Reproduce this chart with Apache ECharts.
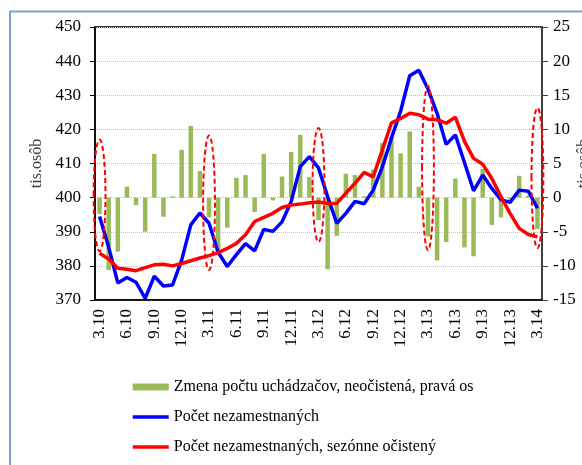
<!DOCTYPE html>
<html>
<head>
<meta charset="utf-8">
<script src="https://cdn.jsdelivr.net/npm/echarts@6/dist/echarts.min.js"></script>
<style>
  html, body { margin: 0; padding: 0; background: #fff; }
  #chart { width: 582px; height: 465px; }
</style>
</head>
<body>
<div id="chart"></div>
<script>
// mesiace 3.10 - 3.14
const months = [
  '3.10', '4.10', '5.10', '6.10', '7.10', '8.10', '9.10', '10.10', '11.10', '12.10',
  '1.11', '2.11', '3.11', '4.11', '5.11', '6.11', '7.11', '8.11', '9.11', '10.11', '11.11', '12.11',
  '1.12', '2.12', '3.12', '4.12', '5.12', '6.12', '7.12', '8.12', '9.12', '10.12', '11.12', '12.12',
  '1.13', '2.13', '3.13', '4.13', '5.13', '6.13', '7.13', '8.13', '9.13', '10.13', '11.13', '12.13',
  '1.14', '2.14', '3.14'
];

// Počet nezamestnaných (tis. osôb, ľavá os)
const unemployed = [
  394.5, 385.5, 375.0, 376.6, 375.2, 370.5, 377.0, 374.1, 374.4, 381.7,
  392.0, 395.5, 392.5, 384.0, 379.8, 383.3, 386.5, 384.4, 390.7, 390.1, 392.9, 398.8,
  409.1, 412.0, 408.7, 400.3, 392.5, 395.4, 398.9, 398.2, 402.2, 409.0, 417.5, 425.3,
  435.7, 437.3, 431.8, 424.7, 415.6, 418.4, 410.3, 402.0, 406.6, 402.7, 399.4, 398.6,
  402.2, 401.9, 396.9
];

// Počet nezamestnaných, sezónne očistený
const unemployedSa = [
  383.7, 382.0, 379.3, 379.0, 378.6, 379.5, 380.3, 380.5, 380.0, 380.7,
  381.5, 382.3, 383.0, 383.9, 385.1, 386.6, 389.1, 393.0, 394.2, 395.4, 397.1, 397.8,
  398.1, 398.5, 398.7, 398.3, 398.3, 401.3, 404.2, 407.4, 406.1, 414.0, 421.9, 423.2,
  424.7, 424.3, 423.0, 422.8, 421.8, 423.6, 416.5, 411.5, 409.8, 405.6, 400.3, 395.4,
  391.0, 389.2, 388.5
];

// Zmena počtu uchádzačov, neočistená (pravá os)
const applicantsChange = [
  -2.4, -10.6, -7.9, 1.6, -1.1, -5.0, 6.4, -2.8, 0.2, 7.0,
  10.5, 3.9, -2.9, -8.2, -4.4, 2.9, 3.3, -2.1, 6.4, -0.4, 3.1, 6.7,
  9.2, 3.0, -3.3, -10.5, -5.6, 3.5, 3.3, 0.2, 4.1, 8.0, 8.9, 6.5,
  9.7, 1.6, -5.7, -9.2, -6.5, 2.8, -7.3, -8.6, 4.2, -4.0, -2.9, -0.3,
  3.2, 0.3, -4.6
];

// zvýraznené marce (ovály), rozsah v tis. osôb
const markMonths = ['3.10', '3.11', '3.12', '3.13', '3.14'];
const markTop = [417.0, 418.2, 420.4, 432.7, 426.3];
const markBottom = [384.3, 378.8, 387.0, 384.6, 385.2];

const leftTicks = { min: 370, max: 450, step: 10 };
const rightTicks = { min: -15, max: 25, step: 5 };

const names = [
  'Zmena počtu uchádzačov, neočistená, pravá os',
  'Počet nezamestnaných',
  'Počet nezamestnaných, sezónne očistený'
];

const serif = 'Liberation Serif';

const markData = markMonths.map(function (m, i) {
  return [months.indexOf(m), markTop[i], markBottom[i]];
});

const chart = echarts.init(document.getElementById('chart'));

chart.setOption({
  animation: false,
  graphic: [
    {
      type: 'rect',
      shape: { x: 10, y: 11.5, width: 640, height: 520 },
      style: { fill: 'none', stroke: '#7f9fd0', lineWidth: 2 },
      silent: true
    }
  ],
  grid: {
    left: 95,
    right: 40,
    top: 27,
    bottom: 165,
    containLabel: false,
    outerBoundsMode: 'none',
    show: true,
    borderColor: '#000',
    borderWidth: 1.5
  },
  legend: {
    orient: 'vertical',
    left: 131,
    top: 379,
    padding: 0,
    itemWidth: 36,
    itemHeight: 7,
    itemGap: 14,
    textStyle: { fontFamily: serif, fontSize: 16, color: '#000' },
    data: [
      { name: names[0], icon: 'rect' },
      { name: names[1], itemStyle: { opacity: 0 }, lineStyle: { width: 3.5 } },
      { name: names[2], itemStyle: { opacity: 0 }, lineStyle: { width: 3.5 } }
    ]
  },
  xAxis: {
    type: 'category',
    data: months,
    boundaryGap: true,
    axisLine: { onZero: false, lineStyle: { color: '#000', width: 1.5 } },
    axisTick: { interval: 2, length: 5, lineStyle: { color: '#000' } },
    axisLabel: {
      interval: 2,
      rotate: 90,
      margin: 9,
      fontFamily: serif,
      fontSize: 17,
      color: '#000'
    }
  },
  yAxis: [
    {
      type: 'value',
      min: leftTicks.min,
      max: leftTicks.max,
      interval: leftTicks.step,
      name: 'tis.osôb',
      nameLocation: 'middle',
      nameGap: 50,
      nameTextStyle: { fontFamily: serif, fontSize: 16, color: '#404040' },
      axisLine: { show: true, lineStyle: { color: '#000', width: 1.5 } },
      axisTick: { show: true, length: 5, lineStyle: { color: '#000' } },
      axisLabel: { margin: 14, fontFamily: serif, fontSize: 17, color: '#000' },
      splitLine: { lineStyle: { color: '#bfbfbf', type: 'dotted', width: 1 } }
    },
    {
      type: 'value',
      min: rightTicks.min,
      max: rightTicks.max,
      interval: rightTicks.step,
      name: 'tis.osôb',
      nameLocation: 'middle',
      nameGap: 34,
      nameRotate: 90,
      nameMoveOverlap: false,
      nameTextStyle: { fontFamily: serif, fontSize: 16, color: '#404040' },
      axisLine: { show: true, lineStyle: { color: '#404040', width: 2 } },
      axisTick: { show: true, length: 6, lineStyle: { color: '#404040' } },
      axisLabel: { margin: 11, fontFamily: serif, fontSize: 17, color: '#000' },
      splitLine: { show: false }
    }
  ],
  series: [
    {
      name: names[0],
      type: 'bar',
      yAxisIndex: 1,
      barWidth: 4.5,
      itemStyle: { color: '#9bbb59' },
      data: applicantsChange
    },
    {
      name: names[1],
      type: 'line',
      symbol: 'none',
      lineStyle: { color: '#0000ff', width: 3.5 },
      itemStyle: { color: '#0000ff' },
      z: 3,
      data: unemployed
    },
    {
      name: names[2],
      type: 'line',
      symbol: 'none',
      lineStyle: { color: '#ff0000', width: 3.5 },
      itemStyle: { color: '#ff0000' },
      z: 4,
      data: unemployedSa
    },
    {
      name: 'marec',
      type: 'custom',
      z: 5,
      silent: true,
      renderItem: function (params, api) {
        const top = api.coord([api.value(0), api.value(1)]);
        const bottom = api.coord([api.value(0), api.value(2)]);
        const rx = api.size([1, 0])[0] * 0.65;
        return {
          type: 'ellipse',
          shape: {
            cx: top[0],
            cy: (top[1] + bottom[1]) / 2,
            rx: rx,
            ry: (bottom[1] - top[1]) / 2
          },
          style: { fill: 'none', stroke: '#ff0000', lineWidth: 2, lineDash: [5, 3] }
        };
      },
      data: markData
    }
  ]
});
</script>
</body>
</html>
